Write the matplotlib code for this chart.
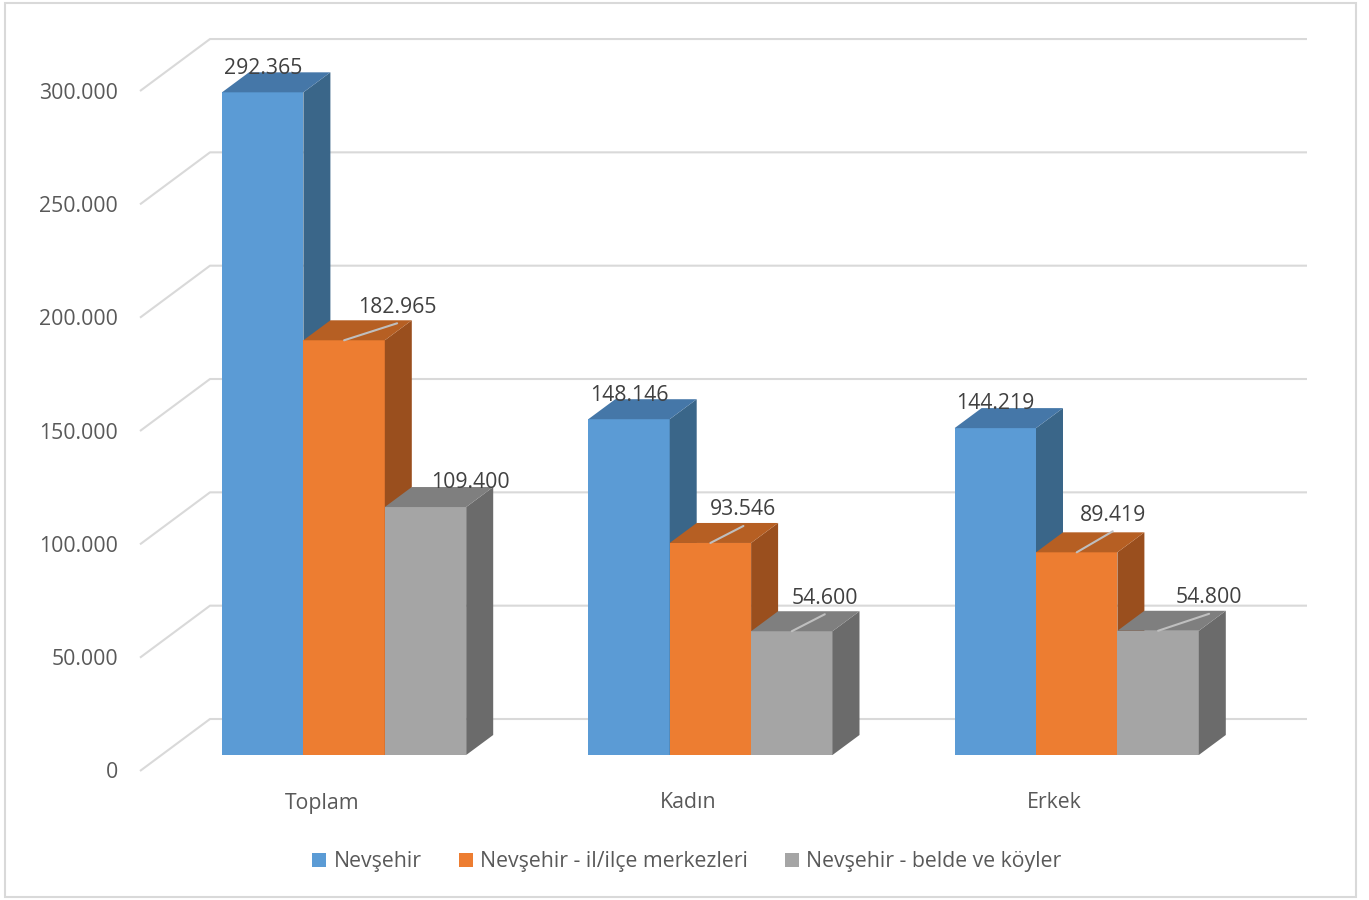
import matplotlib.pyplot as plt
from matplotlib.patches import Polygon, Patch, Rectangle

plt.rcParams['font.family'] = ['Open Sans', 'DejaVu Sans']

# data
categories = ["Toplam", "Kadın", "Erkek"]
series_names = ["Nevşehir", "Nevşehir - il/ilçe merkezleri", "Nevşehir - belde ve köyler"]
nevsehir = [292365, 148146, 144219]
merkez = [182965, 93546, 89419]
belde = [109400, 54600, 54800]
yticks = [0, 50000, 100000, 150000, 200000, 250000, 300000]

def fmt(v):
    return "{:,}".format(v).replace(",", ".")

# colours (front, side, top)
front_cols = ["#5B9BD5", "#ED7D31", "#A5A5A5"]
side_cols = ["#3A6689", "#9A4F1E", "#6B6B6B"]
top_cols = ["#4577A8", "#B65F23", "#7F7F7F"]

# label offsets in pixels (right, up) relative to top-front centre of each bar
label_off = [
    [(0, 24), (0, 24), (0, 25)],
    [(53, 33), (33, 33), (36, 37)],
    [(45, 25), (33, 33), (51, 33)],
]

W, H = 1369, 900
fs = 15.3
fig = plt.figure(figsize=(W / 100, H / 100), dpi=100)
ax = fig.add_axes([0, 0, 1, 1])
ax.axis('off')

bw_px = 81.4         # bar width in pixels -> 1 x-unit
x0_px = 222          # left edge of first bar
base_px = 755        # pixel row of value 0 on bar fronts
sy = 113.33 / 50000  # pixels per value unit

ax.set_xlim(-x0_px / bw_px, (W - x0_px) / bw_px)
ax.set_ylim(-(H - base_px) / sy, base_px / sy)

def px_x(p):
    return p / bw_px

def px_y(p):
    return p / sy

# depth of bars and floor
bdx, bdy = px_x(27), px_y(20)
wall_x, wall_dy = px_x(210 - x0_px), px_y(36)
floor_x, floor_dy = px_x(140 - x0_px), px_y(-16)
grid_end = px_x(1307 - x0_px)

grid_col = "#D9D9D9"
for t in yticks:
    ax.plot([floor_x, wall_x, grid_end], [t + floor_dy, t + wall_dy, t + wall_dy],
            color=grid_col, lw=1.5, solid_capstyle='butt', zorder=1)
    ax.text(px_x(118 - x0_px), t + floor_dy - px_y(2), fmt(t), ha='right', va='center',
            fontsize=fs, color="#595959")

group_step = 4.5
all_series = [nevsehir, merkez, belde]
for i, cat in enumerate(categories):
    gx = i * group_step
    for j, vals in enumerate(all_series):
        x = gx + j
        v = vals[i]
        ax.bar(x, v, width=1, align='edge', color=front_cols[j], zorder=2 + j)
        side = Polygon([(x + 1, 0), (x + 1 + bdx, bdy), (x + 1 + bdx, v + bdy), (x + 1, v)],
                       closed=True, facecolor=side_cols[j], edgecolor='none', zorder=2 + j)
        top = Polygon([(x, v), (x + 1, v), (x + 1 + bdx, v + bdy), (x + bdx, v + bdy)],
                      closed=True, facecolor=top_cols[j], edgecolor='none', zorder=2 + j)
        ax.add_patch(side)
        ax.add_patch(top)
        ox, oy = label_off[j][i]
        ax.annotate(fmt(v), xy=(x + 0.5, v), xytext=(ox, oy), textcoords='offset pixels',
                    ha='center', va='center', fontsize=fs, color="#404040", zorder=10)
        if oy >= 30:
            ax.annotate('', xy=(x + 0.5, v), xytext=(ox, oy - 16), textcoords='offset pixels',
                        arrowprops=dict(arrowstyle='-', color="#BFBFBF", lw=1.5,
                                        shrinkA=0, shrinkB=0), zorder=9)
    ax.annotate(cat, xy=(gx + 1.5, 0), xytext=(-22, -48), textcoords='offset pixels',
                ha='center', va='center', fontsize=fs, color="#595959")

handles = [Patch(facecolor=c, edgecolor='none') for c in front_cols]
fig.legend(handles, series_names, loc='center', bbox_to_anchor=(687 / W, 1 - 862 / H),
           ncol=3, frameon=False, fontsize=fs, labelcolor="#595959",
           handlelength=0.65, handleheight=0.65, handletextpad=0.35, columnspacing=1.75)

fig.patches.append(Rectangle((5 / W, 3 / H), 1351 / W, 894 / H, transform=fig.transFigure,
                             fill=False, edgecolor="#D9D9D9", lw=1.5))

fig.savefig("out.png", dpi=100)
